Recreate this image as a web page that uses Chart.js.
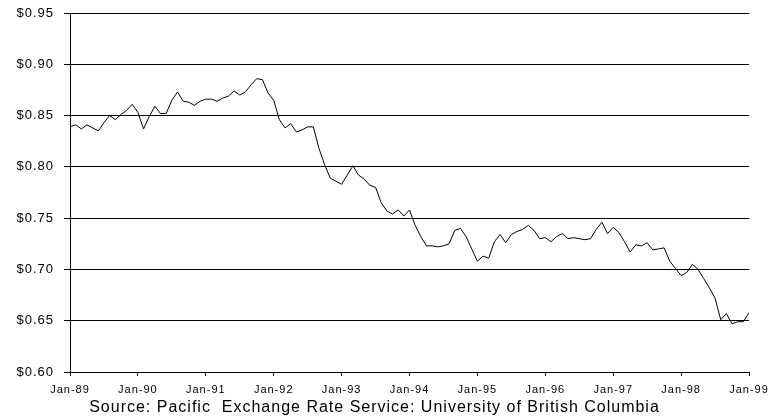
<!DOCTYPE html>
<html>
<head>
<meta charset="utf-8">
<script src="https://cdn.jsdelivr.net/npm/chart.js@4.4.0/dist/chart.umd.min.js"></script>
<style>
  html, body { margin: 0; padding: 0; background: #fff; }
  #wrap { width: 771px; height: 419px; position: relative; }
</style>
</head>
<body>
<div id="wrap"><canvas id="rate"></canvas></div>
<script>
// monthly rate, Jan-89 .. Jan-99 (121 months)
var rate89 = [0.839, 0.841, 0.837, 0.841, 0.838, 0.835, 0.843, 0.850, 0.846, 0.851, 0.855, 0.861];
var rate90 = [0.853, 0.837, 0.849, 0.859, 0.852, 0.852, 0.865, 0.873, 0.864, 0.863, 0.860, 0.864];
var rate91 = [0.866, 0.866, 0.864, 0.867, 0.869, 0.874, 0.870, 0.873, 0.880, 0.886, 0.885, 0.872];
var rate92 = [0.865, 0.846, 0.838, 0.842, 0.834, 0.836, 0.839, 0.839, 0.818, 0.802, 0.789, 0.786];
var rate93 = [0.783, 0.792, 0.801, 0.792, 0.788, 0.782, 0.780, 0.765, 0.757, 0.754, 0.758, 0.752];
var rate94 = [0.758, 0.743, 0.732, 0.723, 0.723, 0.722, 0.723, 0.725, 0.738, 0.740, 0.732, 0.720];
var rate95 = [0.708, 0.713, 0.711, 0.727, 0.734, 0.726, 0.734, 0.737, 0.739, 0.743, 0.738, 0.730];
var rate96 = [0.731, 0.727, 0.732, 0.735, 0.730, 0.731, 0.730, 0.729, 0.730, 0.739, 0.746, 0.735];
var rate97 = [0.741, 0.736, 0.727, 0.717, 0.724, 0.723, 0.726, 0.719, 0.720, 0.721, 0.708, 0.701];
var rate98 = [0.694, 0.697, 0.705, 0.700, 0.691, 0.682, 0.672, 0.651, 0.657, 0.647, 0.649, 0.649];
var rate99 = [0.658];

var tickLabels = ['Jan-89', 'Jan-90', 'Jan-91', 'Jan-92', 'Jan-93', 'Jan-94',
                  'Jan-95', 'Jan-96', 'Jan-97', 'Jan-98', 'Jan-99'];
var yTicks = [0.60, 0.65, 0.70, 0.75, 0.80, 0.85, 0.90, 0.95];
var sourceText = 'Source: Pacific  Exchange Rate Service: University of British Columbia';

var rates = [].concat(rate89, rate90, rate91, rate92, rate93, rate94,
                      rate95, rate96, rate97, rate98, rate99);
var points = rates.map(function(v, i) { return { x: i, y: v }; });

// old spreadsheet look: spaced-out letters
var spacing = {
  id: 'spacing',
  beforeLayout: function(chart) { chart.ctx.letterSpacing = '1px'; },
  beforeDraw: function(chart) { chart.ctx.letterSpacing = '1px'; }
};

Chart.defaults.font.family = '"Liberation Sans", Arial, sans-serif';
Chart.defaults.color = '#000';

new Chart(document.getElementById('rate'), {
  type: 'line',
  data: {
    datasets: [{
      data: points,
      borderColor: '#000',
      borderWidth: 1,
      pointRadius: 0,
      tension: 0,
      fill: false
    }]
  },
  options: {
    responsive: true,
    maintainAspectRatio: false,
    animation: false,
    layout: { padding: { left: 0, right: 22, top: 13, bottom: 0 } },
    plugins: {
      legend: { display: false },
      tooltip: { enabled: false },
      title: {
        display: true,
        position: 'bottom',
        text: sourceText,
        color: '#000',
        font: { size: 16, weight: 'normal' },
        padding: { top: 0, bottom: 2 }
      }
    },
    scales: {
      x: {
        type: 'linear',
        min: 0,
        max: (tickLabels.length - 1) * 12,
        border: { color: '#000', width: 1 },
        grid: { display: true, drawOnChartArea: false, drawTicks: true, tickLength: 4, color: '#000' },
        ticks: {
          stepSize: 12,
          padding: 7,
          maxRotation: 0,
          autoSkip: false,
          font: { size: 11 },
          callback: function(v) { return tickLabels[v / 12]; }
        },
        afterFit: function(s) {
          s.height = 25.8;
          s.paddingLeft = 0;
          s.paddingRight = 0;
        }
      },
      y: {
        min: yTicks[0],
        max: yTicks[yTicks.length - 1],
        border: { color: '#000', width: 1 },
        grid: { color: '#000', tickLength: 6 },
        ticks: {
          stepSize: 0.05,
          padding: 10,
          font: { size: 13 },
          callback: function(v) { return '$' + v.toFixed(2); }
        },
        afterFit: function(s) {
          s.width = 70;
          s.paddingTop = 0;
          s.paddingBottom = 0;
        }
      }
    }
  },
  plugins: [spacing]
});
</script>
</body>
</html>
